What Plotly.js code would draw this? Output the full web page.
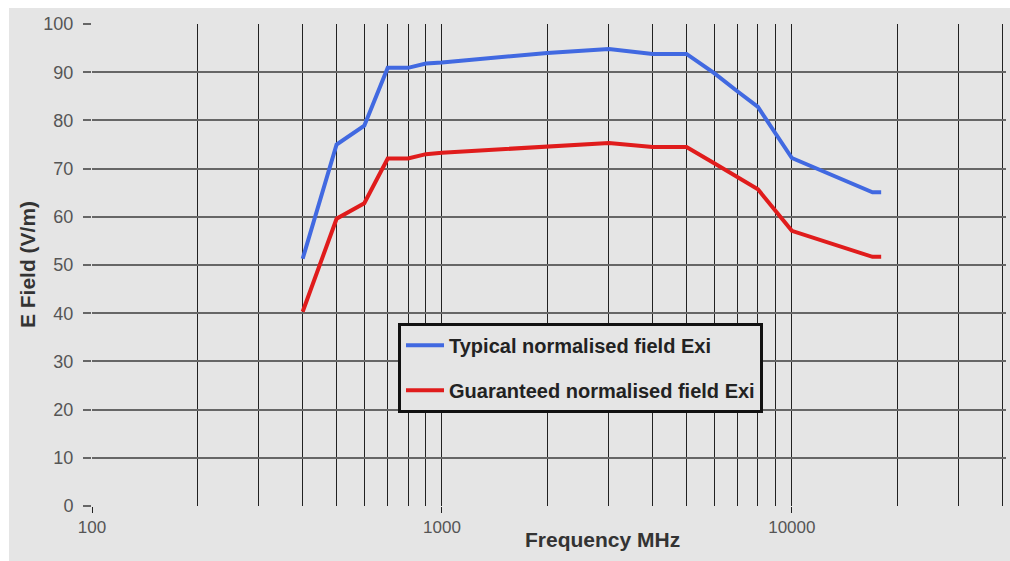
<!DOCTYPE html>
<html>
<head>
<meta charset="utf-8">
<script src="https://cdn.plot.ly/plotly-3.0.1.min.js"></script>
<style>
html,body{margin:0;padding:0;background:#ffffff;width:1010px;height:561px;overflow:hidden;}
#chart{position:absolute;left:9px;top:8px;width:1001px;height:553px;}
</style>
</head>
<body>
<div id="chart"></div>
<script>
// Frequency (MHz)
const freq = [400, 500, 600, 700, 800, 900, 1000, 2000, 3000, 4000, 5000, 6000, 7000, 8000, 10000, 17000, 18000];
// Typical normalised field Exi (V/m)
const typical = [51.3, 75.0, 78.9, 90.9, 90.9, 91.8, 92.0, 94.0, 94.8, 93.8, 93.8, 89.8, 86.0, 82.8, 72.2, 65.1, 65.1];
// Guaranteed normalised field Exi (V/m)
const guaranteed = [40.3, 59.6, 62.8, 72.1, 72.1, 73.0, 73.3, 74.6, 75.3, 74.5, 74.5, 71.1, 68.2, 65.7, 57.1, 51.7, 51.7];

const seriesNames = ["Typical normalised field Exi", "Guaranteed normalised field Exi"];
const majorTicks = [100, 1000, 10000];
const majorTickText = ["100", "1000", "10000"];
const minorGrid = [200, 300, 400, 500, 600, 700, 800, 900,
                   2000, 3000, 4000, 5000, 6000, 7000, 8000, 9000,
                   20000, 30000, 40000];
const yTicks = [0, 10, 20, 30, 40, 50, 60, 70, 80, 90, 100];
const xTitle = "Frequency MHz";
const yTitle = "E Field (V/m)";

const traces = [
  {x: freq, y: typical, name: seriesNames[0], type: "scatter", mode: "lines",
   legendgroup: "a", line: {color: "#4169e1", width: 4}},
  {x: freq, y: guaranteed, name: seriesNames[1], type: "scatter", mode: "lines",
   legendgroup: "b", line: {color: "#e01c1c", width: 4}}
];

const layout = {
  width: 1001, height: 553,
  margin: {l: 83, r: 4, t: 16, b: 55},
  paper_bgcolor: "#e5e5e5",
  plot_bgcolor: "#e5e5e5",
  font: {family: "Liberation Sans, Arial, sans-serif", color: "#444"},
  showlegend: true,
  legend: {
    x: 0.3348, y: 0.38, xanchor: "left", yanchor: "top",
    bgcolor: "#e5e5e5", bordercolor: "#111", borderwidth: 3,
    font: {family: "Liberation Sans, Arial, sans-serif", size: 20, color: "#222", weight: "bold"},
    traceorder: "grouped", tracegroupgap: 16, itemwidth: 38
  },
  xaxis: {
    type: "log",
    range: [2, 4.612],
    tickmode: "array", tickvals: majorTicks, ticktext: majorTickText,
    ticks: "outside", ticklen: 6, tickcolor: "#222", tickwidth: 1,
    tickfont: {size: 17, color: "#555"},
    showgrid: true, gridcolor: "#222", gridwidth: 1,
    minor: {tickmode: "array", tickvals: minorGrid, showgrid: true, gridcolor: "#222", gridwidth: 1, ticks: ""},
    showline: false, zeroline: false, fixedrange: true
  },
  yaxis: {
    range: [0, 100],
    tickmode: "array", tickvals: yTicks,
    ticks: "outside", ticklen: 8, tickcolor: "#666", tickwidth: 2,
    ticklabelstandoff: 6,
    tickfont: {size: 18, color: "#555"},
    showgrid: true, gridcolor: "#666", gridwidth: 2,
    zeroline: false, showline: false, fixedrange: true
  },
  annotations: [
    {text: xTitle, xref: "paper", yref: "paper", x: 0.558, y: -0.07, xanchor: "center", yanchor: "middle",
     showarrow: false, font: {size: 21, color: "#333", weight: "bold"}},
    {text: yTitle, xref: "paper", yref: "paper", x: -0.071, y: 0.5, xanchor: "center", yanchor: "middle",
     textangle: -90, showarrow: false, font: {size: 21, color: "#333", weight: "bold"}}
  ]
};

Plotly.newPlot("chart", traces, layout, {staticPlot: true, displayModeBar: false});
</script>
</body>
</html>
